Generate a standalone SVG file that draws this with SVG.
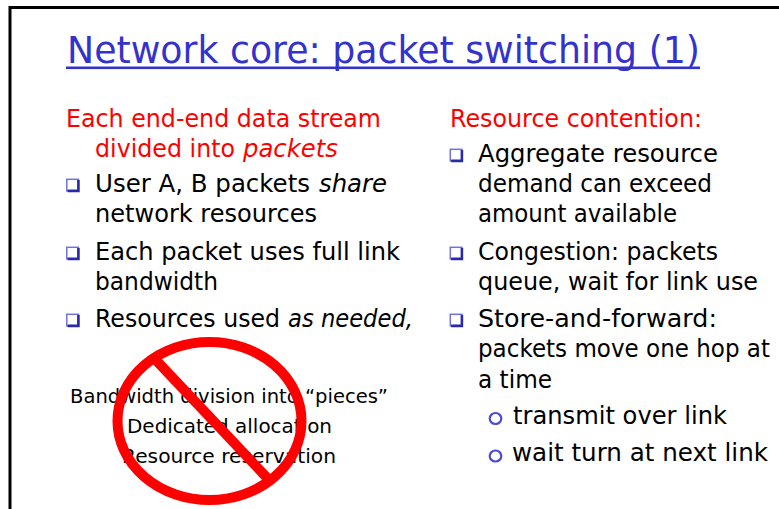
<svg xmlns="http://www.w3.org/2000/svg" width="779" height="509" viewBox="0 0 779 509">
  <defs>
    <style>
      text { font-family: "DejaVu Sans", "Liberation Sans", sans-serif; }
      .title { font-size: 37px; fill: #3333cc; }
      .head { font-size: 25px; fill: #ff0000; }
      .body { font-size: 25px; fill: #000000; }
      .small { font-size: 20px; fill: #000000; }
      .it { font-style: italic; }
      .sqbox { fill: #ffffff; stroke: #7070e0; stroke-width: 1.5; }
      .sqshade { fill: none; stroke: #2a2aa8; stroke-width: 2.6; }
      .ring { fill: none; stroke: #4a4ad8; stroke-width: 2.2; }
    </style>
    <g id="sq">
      <rect class="sqbox" x="0.8" y="0.8" width="11.6" height="11.6"/>
      <polyline class="sqshade" points="1.6,12.4 12.4,12.4 12.4,1.6"/>
    </g>
  </defs>

  <!-- slide frame -->
  <rect x="0" y="0" width="779" height="509" fill="#ffffff"/>
  <polyline points="10,509 10,7.5 779,7.5" fill="none" stroke="#000000" stroke-width="3"/>

  <!-- title -->
  <g id="title">
    <text class="title" x="67" y="63" textLength="633" lengthAdjust="spacingAndGlyphs">Network core: packet switching (1)</text>
    <rect x="66" y="66.5" width="634" height="2.6" fill="#3333cc"/>
  </g>

  <!-- left column -->
  <g id="left-column">
    <text class="head" x="66" y="127" textLength="315" lengthAdjust="spacingAndGlyphs">Each end-end data stream</text>
    <text class="head" x="95" y="157" textLength="140" lengthAdjust="spacingAndGlyphs">divided into</text>
    <text class="head it" x="243" y="157" textLength="95" lengthAdjust="spacingAndGlyphs">packets</text>

    <use href="#sq" x="66" y="178.5"/>
    <text class="body" x="95" y="192" textLength="215" lengthAdjust="spacingAndGlyphs">User A, B packets</text>
    <text class="body it" x="319" y="192" textLength="68" lengthAdjust="spacingAndGlyphs">share</text>
    <text class="body" x="95" y="222" textLength="222" lengthAdjust="spacingAndGlyphs">network resources</text>

    <use href="#sq" x="66" y="246.5"/>
    <text class="body" x="95" y="260" textLength="305" lengthAdjust="spacingAndGlyphs">Each packet uses full link</text>
    <text class="body" x="95" y="290" textLength="123" lengthAdjust="spacingAndGlyphs">bandwidth</text>

    <use href="#sq" x="66" y="313.5"/>
    <text class="body" x="95" y="327" textLength="185" lengthAdjust="spacingAndGlyphs">Resources used</text>
    <text class="body it" x="288" y="327" textLength="125" lengthAdjust="spacingAndGlyphs">as needed,</text>
  </g>

  <!-- what packet switching does not use -->
  <g id="crossed-out">
    <text class="small" x="70" y="403" textLength="318" lengthAdjust="spacingAndGlyphs">Bandwidth division into “pieces”</text>
    <text class="small" x="127" y="433" textLength="205" lengthAdjust="spacingAndGlyphs">Dedicated allocation</text>
    <text class="small" x="122" y="463" textLength="214" lengthAdjust="spacingAndGlyphs">Resource reservation</text>
    <ellipse cx="209.5" cy="421" rx="92" ry="79" fill="none" stroke="#ff0000" stroke-width="10"/>
    <line x1="153" y1="357" x2="272" y2="483" stroke="#ff0000" stroke-width="10"/>
  </g>

  <!-- right column -->
  <g id="right-column">
    <text class="head" x="450" y="127" textLength="252" lengthAdjust="spacingAndGlyphs">Resource contention:</text>

    <use href="#sq" x="449.5" y="148.5"/>
    <text class="body" x="478" y="162" textLength="240" lengthAdjust="spacingAndGlyphs">Aggregate resource</text>
    <text class="body" x="478" y="192" textLength="234" lengthAdjust="spacingAndGlyphs">demand can exceed</text>
    <text class="body" x="478" y="222" textLength="199" lengthAdjust="spacingAndGlyphs">amount available</text>

    <use href="#sq" x="449.5" y="246.5"/>
    <text class="body" x="478" y="260" textLength="240" lengthAdjust="spacingAndGlyphs">Congestion: packets</text>
    <text class="body" x="478" y="290" textLength="280" lengthAdjust="spacingAndGlyphs">queue, wait for link use</text>

    <use href="#sq" x="449.5" y="313.5"/>
    <text class="body" x="478" y="327" textLength="239" lengthAdjust="spacingAndGlyphs">Store-and-forward:</text>
    <text class="body" x="478" y="357" textLength="292" lengthAdjust="spacingAndGlyphs">packets move one hop at</text>
    <text class="body" x="478" y="388" textLength="74" lengthAdjust="spacingAndGlyphs">a time</text>

    <ellipse class="ring" cx="495.5" cy="418.5" rx="5.8" ry="5.5"/>
    <text class="body" x="513" y="424" textLength="214" lengthAdjust="spacingAndGlyphs">transmit over link</text>
    <ellipse class="ring" cx="495.5" cy="456" rx="5.8" ry="5.5"/>
    <text class="body" x="512" y="461" textLength="256" lengthAdjust="spacingAndGlyphs">wait turn at next link</text>
  </g>
</svg>
